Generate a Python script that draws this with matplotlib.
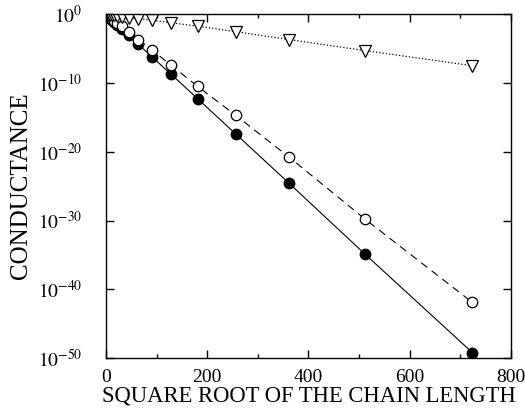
import numpy as np
import matplotlib
matplotlib.use("Agg")
import matplotlib.pyplot as plt
from matplotlib.ticker import FixedLocator, MultipleLocator

### Data ###

# square root of chain length, N = 2^k
sqrt_n = [2, 2.83, 4, 5.66, 8, 11.3, 16, 22.6, 32, 45.3, 64, 90.5,
          128, 181, 256, 362, 512, 724]

# log10 of conductance for the three series
log_filled = [-0.2, -0.25, -0.35, -0.45, -0.6, -0.85, -1.15, -1.6, -2.2,
              -3.0, -4.4, -6.2, -8.7, -12.3, -17.4, -24.6, -34.9, -49.2]
log_open = [-0.15, -0.2, -0.28, -0.38, -0.5, -0.7, -1.0, -1.35, -1.8,
            -2.6, -3.7, -5.2, -7.4, -10.5, -14.7, -20.8, -29.8, -41.9]
log_tri = [-0.03, -0.04, -0.05, -0.07, -0.1, -0.14, -0.2, -0.28, -0.38,
           -0.5, -0.65, -0.9, -1.25, -1.75, -2.55, -3.7, -5.3, -7.5]

yticks = [1e0, 1e-10, 1e-20, 1e-30, 1e-40, 1e-50]
ytick_labels = [r"$10^{0}$", r"$10^{-10}$", r"$10^{-20}$", r"$10^{-30}$",
                r"$10^{-40}$", r"$10^{-50}$"]

### Plotting ###

plt.rcParams['font.family'] = ['Liberation Serif', 'DejaVu Serif']
plt.rcParams['mathtext.fontset'] = 'stix'

fig = plt.figure(figsize=(5.25, 4.15), dpi=100)
ax = fig.add_axes([0.202, 0.137, 0.771, 0.829])

x = np.array(sqrt_n)
ax.plot(x, 10.0**np.array(log_filled), 'k-', linewidth=0.8,
        marker='o', markersize=7.5, markerfacecolor='k', markeredgecolor='k')
ax.plot(x, 10.0**np.array(log_open), 'k--', linewidth=0.8, dashes=(7, 5),
        marker='o', markersize=7.5, markerfacecolor='white', markeredgecolor='k',
        markeredgewidth=0.9)
ax.plot(x, 10.0**np.array(log_tri), 'k:', linewidth=0.9,
        marker='v', markersize=8.5, markerfacecolor='white', markeredgecolor='k',
        markeredgewidth=0.9)

ax.set_yscale('log')
ax.set_xlim(0, 800)
ax.set_ylim(1e-50, 1e0)
ax.yaxis.set_major_locator(FixedLocator(yticks))
ax.yaxis.set_minor_locator(FixedLocator([]))
ax.set_yticklabels(ytick_labels)
ax.xaxis.set_major_locator(MultipleLocator(200))
ax.xaxis.set_minor_locator(MultipleLocator(100))

ax.tick_params(which='both', direction='in', top=True, right=True, labelsize=14)
ax.tick_params(axis='x', pad=8)
ax.tick_params(axis='y', pad=17)
ax.tick_params(which='major', length=6, width=1)
ax.tick_params(which='minor', length=3, width=1)
for s in ax.spines.values():
    s.set_linewidth(1.0)

ax.set_xlabel('SQUARE ROOT OF THE CHAIN LENGTH', fontsize=16.3)
ax.set_ylabel('CONDUCTANCE', fontsize=18)
ax.xaxis.set_label_coords(0.5, -0.08)
ax.yaxis.set_label_coords(-0.183, 0.5)

fig.savefig('out.png', dpi=100)
